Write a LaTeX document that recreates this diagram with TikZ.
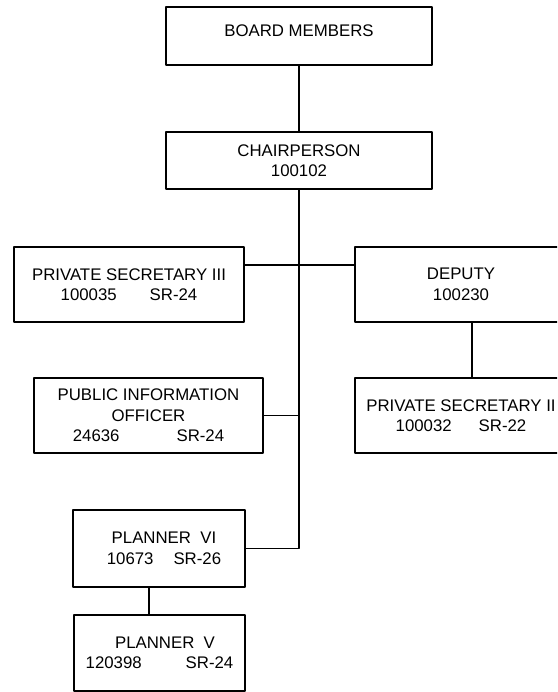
\documentclass[tikz,border=0pt]{standalone}
\usepackage{fontspec}
\setmainfont{Liberation Sans}
\usepackage{tikz}

\begin{document}
\begin{tikzpicture}[x=1pt,y=-1pt,line width=1.3pt,join=round,
        post/.style={draw,rectangle,inner sep=0pt,align=center,
                font=\fontsize{16.8}{20.5}\selectfont}] % chart of posts
        \clip (0,0) rectangle (557,692);
        \node[post,minimum width=266,minimum height=58,text depth=10pt] (board) at (299,36) {BOARD MEMBERS};
        \node[post,minimum width=266,minimum height=57] (chair) at (299,160.5) {CHAIRPERSON\\100102};
        \node[post,minimum width=230,minimum height=75] (ps3) at (129,284.5) {PRIVATE SECRETARY III\\100035\hspace{33pt}SR-24};
        \node[post,minimum width=212,minimum height=75] (deputy) at (461,284.5) {DEPUTY\\100230};
        \node[post,minimum width=229,minimum height=75] (pio) at (148.5,415.5) {PUBLIC INFORMATION\\OFFICER\\24636\hspace{57pt}SR-24};
        \node[post,minimum width=212,minimum height=75] (ps2) at (461,415.5) {PRIVATE SECRETARY II\\100032\hspace{27pt}SR-22};
        \node[post,minimum width=172,minimum height=77] (planner6) at (159,548.5) {\hspace*{10pt}PLANNER\ \ VI\\\hspace*{10pt}10673\hspace{20pt}SR-26};
        \node[post,minimum width=171,minimum height=76] (planner5) at (159.5,653) {\hspace*{11pt}PLANNER\ \ V\\120398\hspace{44pt}SR-24};
        \coordinate (secline) at (299,265);
        \coordinate (depline) at (472,0);
        \coordinate (planline) at (149,0);
        \draw (board) -- (chair);
        \draw (chair.south) |- (planner6.east);
        \draw (ps3.east |- secline) -- (deputy.west |- secline);
        \draw (pio.east) -- (pio.east -| chair.south);
        \draw (deputy.south -| depline) -- (ps2.north -| depline);
        \draw (planner6.south -| planline) -- (planner5.north -| planline);
\end{tikzpicture}
\end{document}
